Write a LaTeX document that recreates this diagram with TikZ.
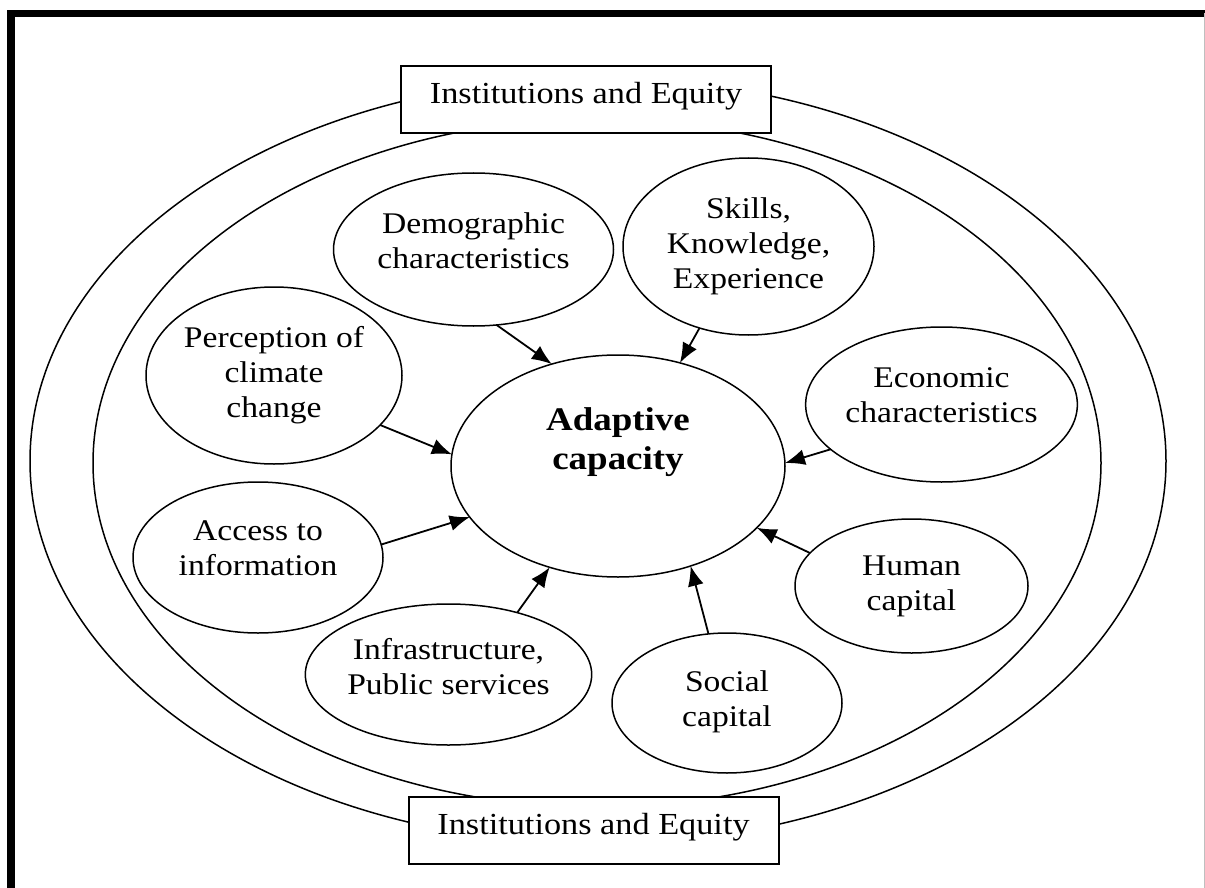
\documentclass[tikz,border=0pt]{standalone}
\usepackage{fontspec}
\setmainfont{Liberation Serif}[FakeStretch=1.12]
\usetikzlibrary{arrows.meta}
\usetikzlibrary{shapes}
\newcommand\Lift[1]{\\[#1]\mbox{}}

\begin{document}
\begin{tikzpicture}[x=0.5pt, y=-0.5pt,
>={Latex[length=10pt,width=8pt]},
ring/.style = {ellipse, draw, line width=0.75pt, inner sep=0pt, outer sep=0pt},
fac_n/.style = {ring, align=center, font=\fontsize{15}{17.5}\selectfont},
fac_c/.style = {fac_n, font=\fontsize{16.5}{19.5}\selectfont\bfseries},
inst_n/.style = {rectangle, draw, line width=1pt, fill=white, minimum width=185pt, minimum height=33.5pt, inner sep=0pt, text height=10pt, text depth=6pt, font=\fontsize{15.3}{17}\selectfont},
link/.style = {->, line width=0.9pt}
]
\useasboundingbox (0,0) rectangle (1205,888);

% frame
\draw[line width=3.75pt] (11,888) -- (11,13.5) -- (1205,13.5);
\draw[black!25, line width=0.5pt] (1204.5,13.5) -- (1204.5,888);

% rings
\node (outer) [ring, minimum width=568pt, minimum height=383pt] at (598,461) {};
\node (inner) [ring, minimum width=504pt, minimum height=344pt] at (597,463) {};

\node (top) [inst_n] at (586,99.5) {Institutions and Equity};
\node (bot) [inst_n] at (593.5,830.5) {Institutions and Equity};

% centre and factors
\node (adapt) [fac_c, minimum width=167pt, minimum height=111pt] at (618,466) {Adaptive\\capacity\Lift{8pt}};

\node (demo) [fac_n, minimum width=140pt, minimum height=76.5pt] at (473.5,249.5) {Demographic\\characteristics\Lift{-9pt}};
\node (skill) [fac_n, minimum width=125.5pt, minimum height=88.5pt] at (748.5,246.5) {Skills,\\Knowledge,\\Experience};
\node (perc) [fac_n, minimum width=128pt, minimum height=88.5pt] at (274,375.5) {Perception of\\climate\\change};
\node (econ) [fac_n, minimum width=132.5pt, minimum height=77.5pt] at (941.5,404.5) {Economic\\characteristics\Lift{-8pt}};
\node (info) [fac_n, minimum width=125pt, minimum height=75.5pt] at (258,557.5) {Access to\\information\Lift{-8pt}};
\node (infra) [fac_n, minimum width=141.5pt, minimum height=70.5pt] at (448.5,674.5) {Infrastructure,\\Public services\Lift{-9pt}};
\node (human) [fac_n, minimum width=116.5pt, minimum height=67pt] at (911.5,586) {Human\\capital};
\node (social) [fac_n, minimum width=115pt, minimum height=70pt] at (727,703) {Social\\capital\Lift{-13pt}};

\draw[link] (demo.-73) -- (adapt.123);
\draw[link] (skill.-121.5) -- (adapt.59);
\draw[link] (perc.-25) -- (adapt.176);
\draw[link] (econ.202) -- (adapt.1);
\draw[link] (info.6.6) -- (adapt.199.4);
\draw[link] (infra.42.4) -- (adapt.-124);
\draw[link] (human.162.3) -- (adapt.-24.6);
\draw[link] (social.105.7) -- (adapt.-54.9);
\end{tikzpicture}
\end{document}
